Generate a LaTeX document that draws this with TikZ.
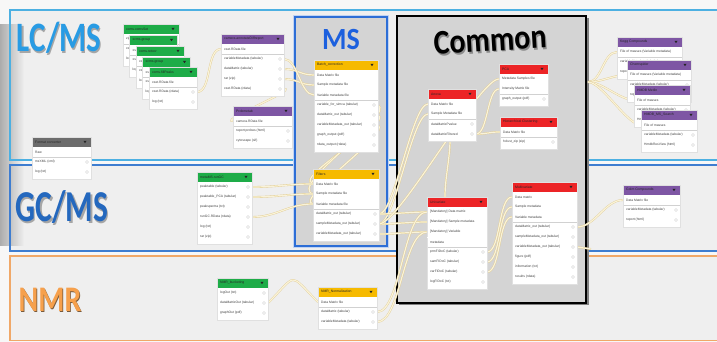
\documentclass[tikz,border=0pt]{standalone}
\usepackage{fontspec}
\setmainfont{Liberation Sans}
\newfontfamily\ttlfont{Carlito}
\usetikzlibrary{calc,fadings}

\definecolor{bgc}{RGB}{247,247,247}
\definecolor{bandc}{RGB}{239,239,239}
\definecolor{lcline}{RGB}{76,176,226}
\definecolor{gcline}{RGB}{62,125,208}
\definecolor{nmrline}{RGB}{240,168,104}
\definecolor{msline}{RGB}{45,110,214}
\definecolor{boxgray}{RGB}{212,212,212}
\definecolor{hgreen}{RGB}{30,172,72}
\definecolor{hpurple}{RGB}{126,86,164}
\definecolor{horange}{RGB}{246,186,0}
\definecolor{hred}{RGB}{236,36,38}
\definecolor{hgray}{RGB}{108,108,108}
\definecolor{connout}{RGB}{224,203,146}
\definecolor{connin}{RGB}{250,243,216}
\definecolor{lcblue}{RGB}{40,155,228}
\definecolor{gcblue}{RGB}{36,104,190}
\definecolor{msblue}{RGB}{28,96,222}
\definecolor{nmrorange}{RGB}{246,160,76}
\definecolor{nmredge}{RGB}{120,90,60}

\pgfdeclarelayer{back}
\pgfdeclarelayer{conn}
\pgfsetlayers{back,conn,main}

\tikzset{
  hdr/.style={rectangle, inner sep=0pt, minimum height=10, outer sep=0pt},
  hdrtext/.style={inner sep=0pt, font=\fontsize{3.4}{4}\selectfont, text=black!85},
  rowbox/.style={rectangle, fill=white, inner sep=0pt, minimum height=10, outer sep=0pt},
  rowtext/.style={inner sep=0pt, font=\fontsize{3.3}{4}\selectfont, text=black!75},
  rowline/.style={draw=black!7, line width=0.35},
  sepline/.style={draw=black!18, line width=0.5},
  portring/.style={draw=black!14, line width=0.4},
  conn/.style={draw=connout, line width=0.35, double=connin, double distance=1.2},
  ttl/.style={inner sep=0pt, transform shape, font=\ttlfont\bfseries\fontsize{#1}{#1}\selectfont},
}

% \tool{name}{x}{y}{width}{header colour}{title}{inputs}{outputs}
\newcommand\tool[8]{%
  \node[hdr, fill=#5, minimum width=#4, anchor=north west] (#1) at (#2,#3) {};
  \node[hdrtext, anchor=west] at ([xshift=3]#1.west) {#6};
  \fill[black!85] ([xshift=-7.5,yshift=1.1]#1.east) -- ++(3,0) -- ++(-1.5,2.3) -- cycle;
  \gdef\toolrow{0}%
  \def\toolin{#7}%
  \ifx\toolin\empty\else
    \foreach \rl in {#7}{%
      \pgfmathtruncatemacro\rowk{\toolrow+1}\xdef\toolrow{\rowk}%
      \node[rowbox, minimum width=#4, anchor=north west] (#1-r\rowk) at (#2,#3+10*\rowk) {};
      \node[rowtext, anchor=west] at ([xshift=3]#1-r\rowk.west) {\rl};
      \draw[rowline] (#1-r\rowk.south west) -- (#1-r\rowk.south east);
    }%
  \fi
  \xdef\toolsep{\toolrow}%
  \foreach \rl in {#8}{%
    \pgfmathtruncatemacro\rowk{\toolrow+1}\xdef\toolrow{\rowk}%
    \node[rowbox, minimum width=#4, anchor=north west] (#1-r\rowk) at (#2,#3+10*\rowk) {};
    \node[rowtext, anchor=west] at ([xshift=3]#1-r\rowk.west) {\rl};
    \draw[rowline] (#1-r\rowk.south west) -- (#1-r\rowk.south east);
    \draw[portring] ([xshift=-4]#1-r\rowk.east) circle (1.5);
  }%
  \ifnum\toolsep>0 \draw[sepline] (#1-r\toolsep.south west) -- (#1-r\toolsep.south east);\fi
  \fill[white] ([yshift=0.3]#1-r\toolrow.south west) rectangle ++(#4,2.8);
  \draw[black!12, line width=0.3] (#1.north west) rectangle ([yshift=-2.5]#1-r\toolrow.south east);
}

% curved connector from an output row to an input row
\newcommand\link[3][16]{\draw[conn] (#2.east) .. controls +(#1,0) and +(-#1,0) .. (#3.west);}

\begin{document}
\begin{tikzpicture}[x=1pt,y=-1pt]
\useasboundingbox (0,0) rectangle (717,342);

\begin{pgfonlayer}{back}
  \fill[bgc] (0,0) rectangle (717,342);
  % bands
  \fill[bandc] (10,10) rectangle (740,160);
  \fill[bandc] (10,165) rectangle (740,251);
  \fill[bandc] (10,256) rectangle (740,340.5);
  \fill[black, opacity=0.3, path fading=east] (0,24) rectangle (24,246);
  \draw[lcline, line width=1.6] (10,10) rectangle (740,160);
  \draw[gcline, line width=1.6] (10,165) rectangle (740,251);
  \draw[nmrline, line width=1.6] (10,256) rectangle (740,340.5);
  % MS box
  \draw[msline!30, line width=4] (295,17) rectangle (387,246);
  \draw[msline, line width=1.6, fill=boxgray] (295,17) rectangle (387,246);
  % Common box
  \fill[black!50] (399,18.5) rectangle (588.5,305);
  \draw[black, line width=1.8, fill=boxgray] (397,16) rectangle (586,303);
\end{pgfonlayer}

% band and box titles
\begin{scope}[shift={(59,38)}, yscale=1.35]
  \node[ttl=31, text=black!35] at (1.3,1.4) {LC/MS};
  \node[ttl=31, text=lcblue] at (0,0) {LC/MS};
\end{scope}
\begin{scope}[shift={(62,207)}, yscale=1.4]
  \node[ttl=31.5, text=black!35] at (1.3,1.4) {GC/MS};
  \node[ttl=31.5, text=gcblue] at (0,0) {GC/MS};
\end{scope}
\begin{scope}[shift={(50,300)}, yscale=1.2]
  \node[ttl=30, text=nmredge] at (0.9,0.9) {NMR};
  \node[ttl=30, text=nmrorange] at (0,0) {NMR};
\end{scope}
\begin{scope}[shift={(341,40)}, yscale=1.1]
  \node[ttl=28, text=msblue] at (0,0) {MS};
\end{scope}
\begin{scope}[shift={(490,40)}, rotate=3.5, yscale=1.15]
  \node[ttl=30, text=black!45] at (1.2,1.4) {Common};
  \node[ttl=30, text=black] at (0,0) {Common};
\end{scope}

% LC/MS tools
\tool{x1}{123}{24}{56}{hgreen}{xcms.xcmsSet}{zip file}{xset.RData (rdata), log (txt)}
\tool{x2}{129.5}{35}{48}{hgreen}{xcms.group}{xset.RData file}{xset.RData (rdata), log (txt)}
\tool{x3}{136}{46}{48}{hgreen}{xcms.retcor}{xset.RData file}{xset.RData (rdata), log (txt)}
\tool{x4}{142.5}{57}{48}{hgreen}{xcms.group}{xset.RData file}{xset.RData (rdata), log (txt)}
\tool{x5}{149}{67}{48}{hgreen}{xcms.fillPeaks}{xset.RData file}{xset.RData (rdata), log (txt)}
\tool{cam}{221}{34}{63}{hpurple}{camera.annotateDiffreport}{xset.RData file}{variableMetadata (tabular), dataMatrix (tabular), rar (zip), xset.RData (rdata)}
\tool{pm}{233}{106}{59}{hpurple}{Probmetab}{camera.RData file}{report probes (html), cytoscape (sif)}
\tool{fc}{32}{137}{59}{hgray}{Format converter}{Raw}{mzXML (xml), log (txt)}
\tool{kg}{617}{37}{65}{hpurple}{Kegg Compounds}{File of masses (Variable metadata)}{variableMetadata (tabular), report (html)}
\tool{cs}{627}{60}{64}{hpurple}{Chemspider}{File of masses (Variable metadata)}{variableMetadata (tabular), report (html)}
\tool{hm}{634}{85}{56}{hpurple}{HMDB Metlin}{File of masses}{variableMetadata (tabular), HmdbResView (html)}
\tool{hs}{641}{110}{56}{hpurple}{HMDB\_MS\_Search}{File of masses}{variableMetadata (tabular), HmdbResView (html)}

% MS tools
\tool{bc}{314}{60}{64}{horange}{Batch\_correction}{Data Matrix file, Sample metadata file, Variable metadata file}{variable\_for\_simca (tabular), dataMatrix\_out (tabular), variableMetadata\_out (tabular), graph\_output (pdf), rdata\_output (rdata)}
\tool{ft}{313}{169}{66}{horange}{Filters}{Data Matrix file, Sample metadata file, Variable metadata file}{dataMatrix\_out (tabular), sampleMetadata\_out (tabular), variableMetadata\_out (tabular)}

% Common tools
\tool{an}{428}{89}{48}{hred}{Anova}{Data Matrix file, Sample Metadata file}{dataMatrixPvalue, dataMatrixFiltered}
\tool{pca}{499}{64}{49}{hred}{PCA}{Metadata Samples file, Intensity Matrix file}{graph\_output (pdf)}
\tool{hc}{500}{117}{57}{hred}{Hierarchical Clustering}{Data Matrix file}{hclust\_zip (zip)}
\tool{un}{427}{197}{60}{hred}{Univariate}{{[Mandatory] Data matrix},{[Mandatory] Sample metadata},{[Mandatory] Variable},metadata}{prmFIDoC (tabular), samFIDoC (tabular), varFIDoC (tabular), logFIDoC (txt)}
\draw[white, line width=0.6] (un-r3.south west) -- (un-r3.south east);
\tool{mv}{512}{182}{65}{hred}{Multivariate}{Data matrix, Sample metadata, Variable metadata}{dataMatrix\_out (tabular), sampleMetadata\_out (tabular), variableMetadata\_out (tabular), figure (pdf), information (txt), results (rdata)}

% GC/MS tools
\tool{gc}{197}{172}{55}{hgreen}{metaMS.runGC}{}{peaktable (tabular), peaktable\_PCA (tabular), peakspectra (txt), runGC.RData (rdata), log (txt), rar (zip)}
\tool{gm}{623}{185}{57}{hpurple}{Golm Compounds}{Data Matrix file}{variableMetadata (tabular), report (html)}

% NMR tools
\tool{bk}{217}{278}{51}{hgreen}{NMR\_bucketing}{}{logOut (txt), dataMatrixOut (tabular), graphOut (pdf)}
\tool{nn}{318}{287}{59}{horange}{NMR\_Normalization}{Data Matrix file}{dataMatrix (tabular), variableMetadata (tabular)}

\coordinate (cmx) at (588,82);
\coordinate (mvx) at (591,249);

\begin{pgfonlayer}{conn}
  % xcms chain
  \link[12]{x1-r2}{x2-r1}
  \link[12]{x2-r2}{x3-r1}
  \link[12]{x3-r2}{x4-r1}
  \link[12]{x4-r2}{x5-r1}
  \link[15]{x5-r2}{cam-r1}
  \draw[conn] (cam-r5.east) .. controls +(14,0) and +(-14,0) .. (pm-r1.west);
  \link[14]{cam-r3}{bc-r1}
  \link[14]{cam-r4}{bc-r2}
  \link[14]{cam-r2}{bc-r3}
  % batch correction to filters
  \draw[conn] (bc-r5.east) .. controls +(16,8) and +(-22,-6) .. (ft-r1.west);
  \draw[conn] (bc-r4.east) .. controls +(18,10) and +(-26,-8) .. (ft-r2.west);
  \draw[conn] (bc-r6.east) .. controls +(14,8) and +(-20,-4) .. (ft-r3.west);
  % GC/MS into filters
  \link[25]{gc-r1}{ft-r1}
  \link[25]{gc-r2}{ft-r2}
  \link[25]{gc-r4}{ft-r3}
  % filters into the statistics tools
  \link[16]{ft-r4}{an-r1}
  \link[16]{ft-r5}{an-r2}
  \link[16]{ft-r4}{un-r1}
  \link[16]{ft-r5}{un-r2}
  \link[16]{ft-r6}{un-r3}
  \link[20]{ft-r5}{pca-r1}
  \link[12]{an-r4}{hc-r1}
  \link[12]{an-r4}{pca-r2}
  \draw[conn] ([xshift=-2]an-r4.south) .. controls +(0,20) and +(0,-20) .. ([xshift=-12]un.north);
  \link[14]{un-r5}{mv-r1}
  \link[14]{un-r6}{mv-r2}
  \link[14]{un-r7}{mv-r3}
  \link[18]{mv-r4}{gm-r1}
  \draw[conn] (mv-r6.east) -- (mvx);
  % annotation searches
  \draw[conn] (cmx) .. controls +(14,0) and +(-14,0) .. (kg-r1.west);
  \draw[conn] (cmx) .. controls +(14,0) and +(-14,0) .. (cs-r1.west);
  \draw[conn] (cmx) .. controls +(14,0) and +(-14,0) .. (hm-r1.west);
  \draw[conn] (cmx) .. controls +(14,0) and +(-14,0) .. (hs-r1.west);
  % NMR chain
  \draw[conn] (bk-r2.east) .. controls +(30,-30) and +(-30,-30) .. (nn-r1.west);
  \link[24]{nn-r2}{un-r1}
  \link[24]{nn-r3}{un-r3}
\end{pgfonlayer}
\end{tikzpicture}
\end{document}
